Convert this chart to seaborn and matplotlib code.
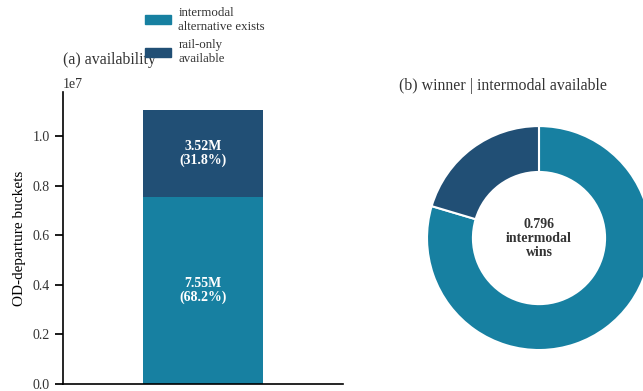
import matplotlib
matplotlib.use("Agg")
import matplotlib.pyplot as plt
import seaborn as sns
import pandas as pd
from matplotlib.patches import Patch

# OD-departure bucket counts by availability
availability = ["intermodal\nalternative exists", "rail-only\navailable"]
bucket_counts = [7.55e6, 3.52e6]
count_labels = ["7.55M", "3.52M"]

# Winner split where intermodal is available
winner_names = ["intermodal", "rail-only"]
winner_share = [0.796, 0.204]

teal = "#1780A1"
navy = "#214F75"
text_dark = "#333333"

sns.set_theme(style="ticks")
plt.rcParams["font.family"] = ["Liberation Serif", "DejaVu Serif"]

fig = plt.figure(figsize=(6.43, 3.91), dpi=100)

# ---- (a) stacked availability bar ----
ax = fig.add_axes([0.098, 0.018, 0.4355, 0.747])
total = sum(bucket_counts)
df_total = pd.DataFrame({"x": ["all"], "y": [total]})
df_inter = pd.DataFrame({"x": ["all"], "y": [bucket_counts[0]]})
sns.barplot(data=df_total, x="x", y="y", color=navy, saturation=1,
            width=0.6, linewidth=0, ax=ax)
sns.barplot(data=df_inter, x="x", y="y", color=teal, saturation=1,
            width=0.6, linewidth=0, ax=ax)
ax.set_xlim(-0.7, 0.7)
ax.set_ylim(0, 1.18e7)
ax.set_xticks([])
ax.set_xlabel("")
ax.set_ylabel("OD-departure buckets", fontsize=11, color="black", labelpad=5)
ax.tick_params(axis="y", labelsize=10, colors="black", labelcolor=text_dark)
ax.yaxis.get_offset_text().set_fontsize(10)
ax.yaxis.get_offset_text().set_color(text_dark)
for s in ["top", "right"]:
    ax.spines[s].set_visible(False)
for s in ["left", "bottom"]:
    ax.spines[s].set_color("black")
    ax.spines[s].set_linewidth(1.2)
ax.set_title("(a) availability", loc="left", fontsize=11.4, color=text_dark, pad=20)

bottom = 0
for val, lab in zip(bucket_counts, count_labels):
    ax.text(0, bottom + val / 2, f"{lab}\n({val / total * 100:.1f}%)",
            ha="center", va="center", color="white", fontsize=10,
            fontweight="bold", linespacing=1.1)
    bottom += val

fig.legend(handles=[Patch(color=teal, label=availability[0]),
                    Patch(color=navy, label=availability[1])],
           loc="upper left", bbox_to_anchor=(0.207, 1.012), frameon=False,
           fontsize=9.3, handlelength=2.0, handleheight=0.7,
           labelspacing=0.5, handletextpad=0.6, labelcolor=text_dark)

# ---- (b) winner donut ----
axp = fig.add_axes([0.6205, 0.0332, 0.4355, 0.716])
axp.pie(winner_share, colors=[teal, navy], startangle=90, counterclock=False,
        wedgeprops=dict(width=0.41, edgecolor="white", linewidth=1.5))
axp.set_aspect("equal")
axp.text(0, 0, f"{winner_share[0]:.3f}\nintermodal\nwins", ha="center",
         va="center", fontsize=10, fontweight="bold", color=text_dark,
         linespacing=1.1)
axp.set_title("(b) winner | intermodal available", loc="left", fontsize=11.4,
              color=text_dark, pad=6)

fig.savefig("out.png", dpi=100)
